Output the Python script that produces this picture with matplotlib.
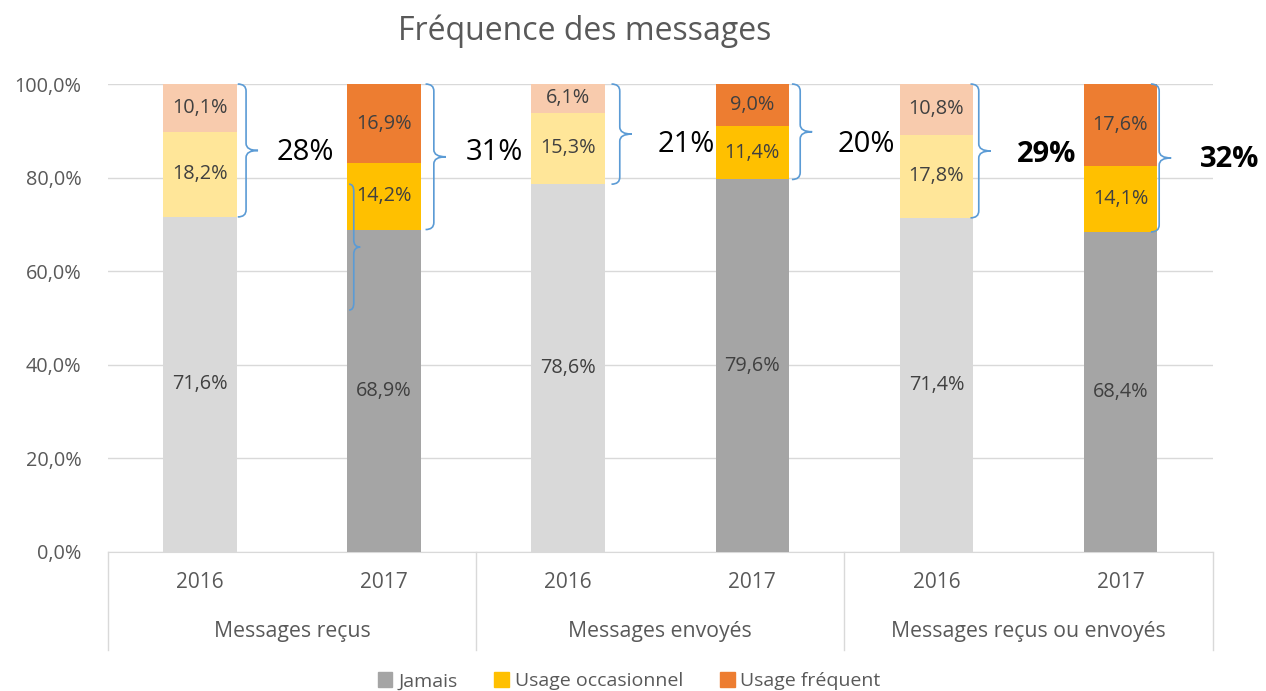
import numpy as np
import matplotlib.pyplot as plt
from matplotlib.path import Path
from matplotlib.patches import PathPatch, Patch

plt.rcParams['font.family'] = ['Open Sans', 'DejaVu Sans']

groups = ['Messages reçus', 'Messages envoyés', 'Messages reçus ou envoyés']
years = ['2016', '2017', '2016', '2017', '2016', '2017']
jamais = [71.6, 68.9, 78.6, 79.6, 71.4, 68.4]
occasionnel = [18.2, 14.2, 15.3, 11.4, 17.8, 14.1]
frequent = [10.1, 16.9, 6.1, 9.0, 10.8, 17.6]
brace_labels = ['28%', '31%', '21%', '20%', '29%', '32%']
brace_bold = [False, False, False, False, True, True]

dark = ['#A5A5A5', '#FFC000', '#ED7D31']
light = ['#D9D9D9', '#FFE699', '#F8CBAD']
blue = '#5B9BD5'
txt = '#404040'
grey_txt = '#595959'


def brace(ax, x, y0, y1, w=0.045, tip=0.065, d=1.5):
    ym = (y0 + y1) / 2
    verts = [(x - w, y1), (x, y1), (x, y1 - d),
             (x, ym + d), (x, ym), (x + tip, ym),
             (x, ym), (x, ym - d),
             (x, y0 + d), (x, y0), (x - w, y0)]
    codes = [Path.MOVETO, Path.CURVE3, Path.CURVE3,
             Path.LINETO, Path.CURVE3, Path.CURVE3,
             Path.CURVE3, Path.CURVE3,
             Path.LINETO, Path.CURVE3, Path.CURVE3]
    ax.add_patch(PathPatch(Path(verts, codes), fill=False, edgecolor=blue,
                           lw=1.2, clip_on=False, zorder=5))


fig = plt.figure(figsize=(12.66, 6.91), dpi=100)
ax = fig.add_axes([0.0853, 0.2012, 0.8725, 0.6772])

x = np.arange(len(years))
w = 0.4
for i in range(len(years)):
    cols = light if i % 2 == 0 else dark
    bottom = 0
    for v, c in zip([jamais[i], occasionnel[i], frequent[i]], cols):
        ax.bar(x[i], v, w, bottom=bottom, color=c, zorder=3)
        ax.text(x[i], bottom + v / 2, f'{v:.1f}%'.replace('.', ','),
                ha='center', va='center', fontsize=14.3, color=txt, zorder=4)
        bottom += v

# accolades
offs = [0.25, 0.27, 0.28, 0.26, 0.23, 0.21]
lab_dx = [0.57, 0.6, 0.64, 0.62, 0.6, 0.59]
lab_y = [85.3, 85.3, 87.0, 87.0, 85.0, 83.8]
for i in range(len(years)):
    brace(ax, x[i] + offs[i], jamais[i], 100)
    ax.text(x[i] + lab_dx[i], lab_y[i], brace_labels[i], ha='center', va='center',
            fontsize=21, color='black',
            fontweight='bold' if brace_bold[i] else 'normal', zorder=6)
# accolade isolée
brace(ax, 0.835, 51.7, 78.6, w=0.025, tip=0.035)

ax.set_xlim(-0.5, 5.5)
ax.set_ylim(0, 100)
ax.set_yticks(np.arange(0, 101, 20))
ax.set_yticklabels([f'{v:.1f}%'.replace('.', ',') for v in np.arange(0, 101, 20)])
ax.tick_params(axis='y', length=0, labelsize=14.3, labelcolor=grey_txt, pad=19)
ax.set_xticks([])
ax.grid(axis='y', color='#D9D9D9', lw=1, zorder=0)
for s in ['top', 'right', 'left']:
    ax.spines[s].set_visible(False)
ax.spines['bottom'].set_color('#D9D9D9')

tr = ax.get_xaxis_transform()
for xs in [-0.5, 1.5, 3.5, 5.5]:
    ax.plot([xs, xs], [0, -0.21], transform=tr, color='#D9D9D9', lw=1, clip_on=False)
for i, y in enumerate(years):
    ax.text(x[i], -0.066, y, transform=tr, ha='center', va='center',
            fontsize=15, color=grey_txt)
for j, g in enumerate(groups):
    ax.text(2 * j + 0.5, -0.169, g, transform=tr, ha='center', va='center',
            fontsize=15.3, color=grey_txt)

fig.text(0.462, 0.955, 'Fréquence des messages', ha='center', va='center',
         fontsize=23, color=grey_txt)

handles = [Patch(color=c) for c in dark]
fig.legend(handles, ['Jamais', 'Usage occasionnel', 'Usage fréquent'],
           loc='center', bbox_to_anchor=(0.497, 0.014), ncol=3, frameon=False,
           fontsize=14, handlelength=0.75, handleheight=0.75, handletextpad=0.3,
           columnspacing=1.9, labelcolor=grey_txt)

fig.savefig('out.png', dpi=100)
